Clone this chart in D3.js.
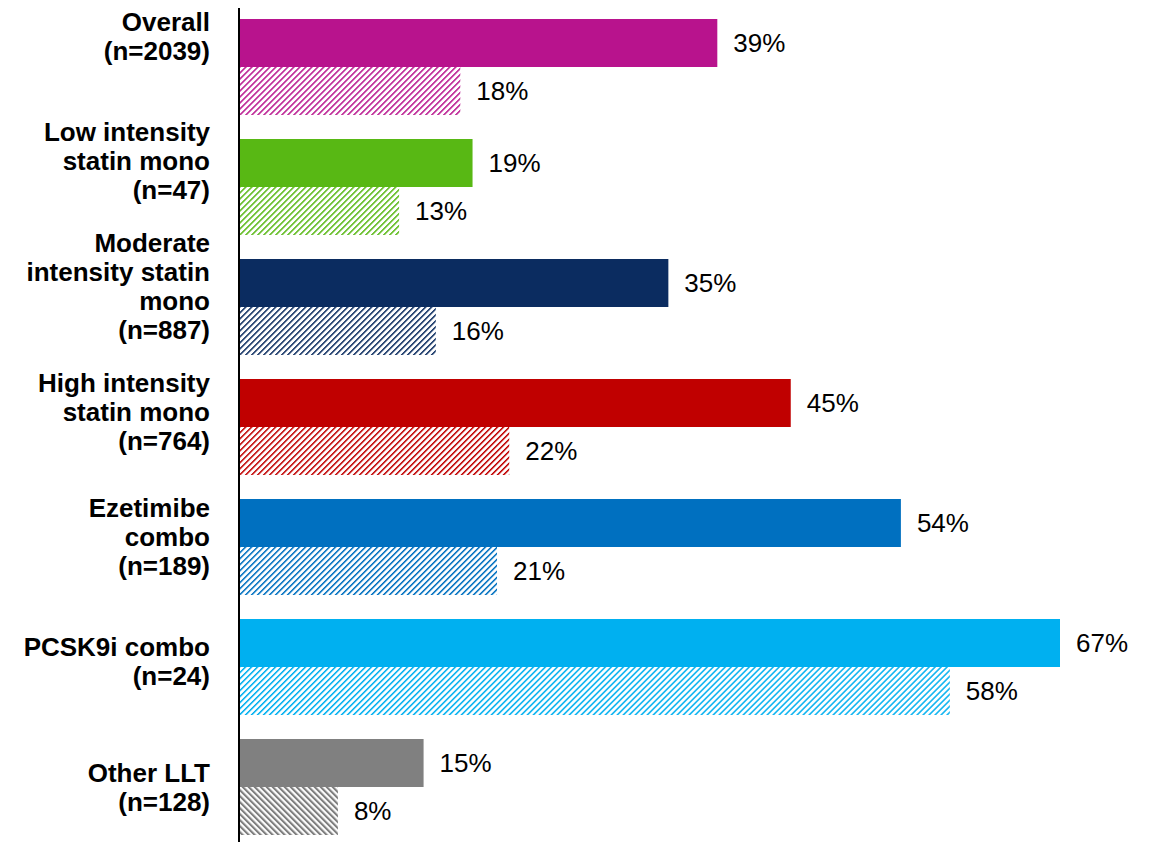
<!DOCTYPE html>
<html>
<head>
<meta charset="utf-8">
<script src="https://cdn.jsdelivr.net/npm/d3@7"></script>
<style>
  html, body { margin: 0; padding: 0; background: #ffffff; }
  svg { display: block; }
  text { font-family: Arial, "Liberation Sans", sans-serif; }
</style>
</head>
<body>
<div id="chart"></div>
<script>
// Treatment groups (row labels, one array entry per line of text)
const categories = ["Overall", "Low", "Moderate", "High", "Ezetimibe", "PCSK9i", "Other"];
const categoryLines = [
  ["Overall", "(n=2039)"],
  ["Low intensity", "statin mono", "(n=47)"],
  ["Moderate", "intensity statin", "mono", "(n=887)"],
  ["High intensity", "statin mono", "(n=764)"],
  ["Ezetimibe", "combo", "(n=189)"],
  ["PCSK9i combo", "(n=24)"],
  ["Other LLT", "(n=128)"]
];
// Percentages: solid bar and hatched bar of each group
const solidValues   = [39, 19, 35, 45, 54, 67, 15];
const hatchedValues = [18, 13, 16, 22, 21, 58, 8];
const groupColors = ["#B8138D", "#58B814", "#0B2C60", "#C00000", "#0070C0", "#00B0F0", "#808080"];

const W = 1152, H = 842;
const svg = d3.select("#chart").append("svg")
  .attr("width", W).attr("height", H);

const x = d3.scaleLinear().domain([0, 67]).range([240, 1060]);
const y = d3.scaleBand().domain(categories).range([7, 847])
  .paddingInner(0.2).paddingOuter(0.1);
const ySub = d3.scaleBand().domain(["solid", "hatched"]).range([0, y.bandwidth()]);
const yLabel = d3.scalePoint().domain(categories).range([36, 787]);

// Diagonal hatch pattern per group
const defs = svg.append("defs");
categories.forEach((c, i) => {
  const grey = c === "Other";
  const p = defs.append("pattern")
    .attr("id", "hatch-" + i)
    .attr("patternUnits", "userSpaceOnUse")
    .attr("width", 4.24).attr("height", 4.24)
    .attr("patternTransform", grey ? "rotate(-45)" : "rotate(45)");
  p.append("rect").attr("width", 10).attr("height", 10).attr("fill", "#ffffff");
  p.append("line")
    .attr("x1", 0).attr("y1", 0).attr("x2", 0).attr("y2", 10)
    .attr("stroke", groupColors[i])
    .attr("stroke-width", grey ? 4.2 : 3);
});

const rows = categories.map((c, i) => ({
  cat: c, i, solid: solidValues[i], hatched: hatchedValues[i]
}));

const g = svg.append("g");

// Solid bars
g.selectAll("rect.solid").data(rows).join("rect")
  .attr("class", "solid")
  .attr("x", x(0))
  .attr("y", d => y(d.cat) + ySub("solid"))
  .attr("width", d => x(d.solid) - x(0))
  .attr("height", ySub.bandwidth())
  .attr("fill", d => groupColors[d.i]);

// Hatched bars
g.selectAll("rect.hatched").data(rows).join("rect")
  .attr("class", "hatched")
  .attr("x", x(0))
  .attr("y", d => y(d.cat) + ySub("hatched"))
  .attr("width", d => x(d.hatched) - x(0))
  .attr("height", ySub.bandwidth())
  .attr("fill", d => `url(#hatch-${d.i})`);

// Value labels
const valueStyle = sel => sel
  .attr("font-size", 26).attr("fill", "#000").attr("dy", "0.35em");
g.selectAll("text.vs").data(rows).join("text")
  .attr("class", "vs")
  .attr("x", d => x(d.solid) + 16)
  .attr("y", d => y(d.cat) + ySub("solid") + ySub.bandwidth() / 2)
  .text(d => d.solid + "%").call(valueStyle);
g.selectAll("text.vh").data(rows).join("text")
  .attr("class", "vh")
  .attr("x", d => x(d.hatched) + 16)
  .attr("y", d => y(d.cat) + ySub("hatched") + ySub.bandwidth() / 2)
  .text(d => d.hatched + "%").call(valueStyle);

// Category labels, right aligned, multi-line
const lineH = 29;
const labels = g.selectAll("text.cat").data(rows).join("text")
  .attr("class", "cat")
  .attr("text-anchor", "end")
  .attr("font-size", 26)
  .attr("font-weight", "bold")
  .attr("fill", "#000");
labels.each(function (d) {
  const lines = categoryLines[d.i];
  const top = yLabel(d.cat) - (lines.length - 1) * lineH / 2;
  d3.select(this).selectAll("tspan").data(lines).join("tspan")
    .attr("x", 210)
    .attr("y", (t, k) => top + k * lineH)
    .attr("dy", "0.35em")
    .text(t => t);
});

// Vertical axis line
svg.append("line")
  .attr("x1", x(0) - 1).attr("x2", x(0) - 1)
  .attr("y1", 8).attr("y2", H)
  .attr("stroke", "#000").attr("stroke-width", 2);
</script>
</body>
</html>
